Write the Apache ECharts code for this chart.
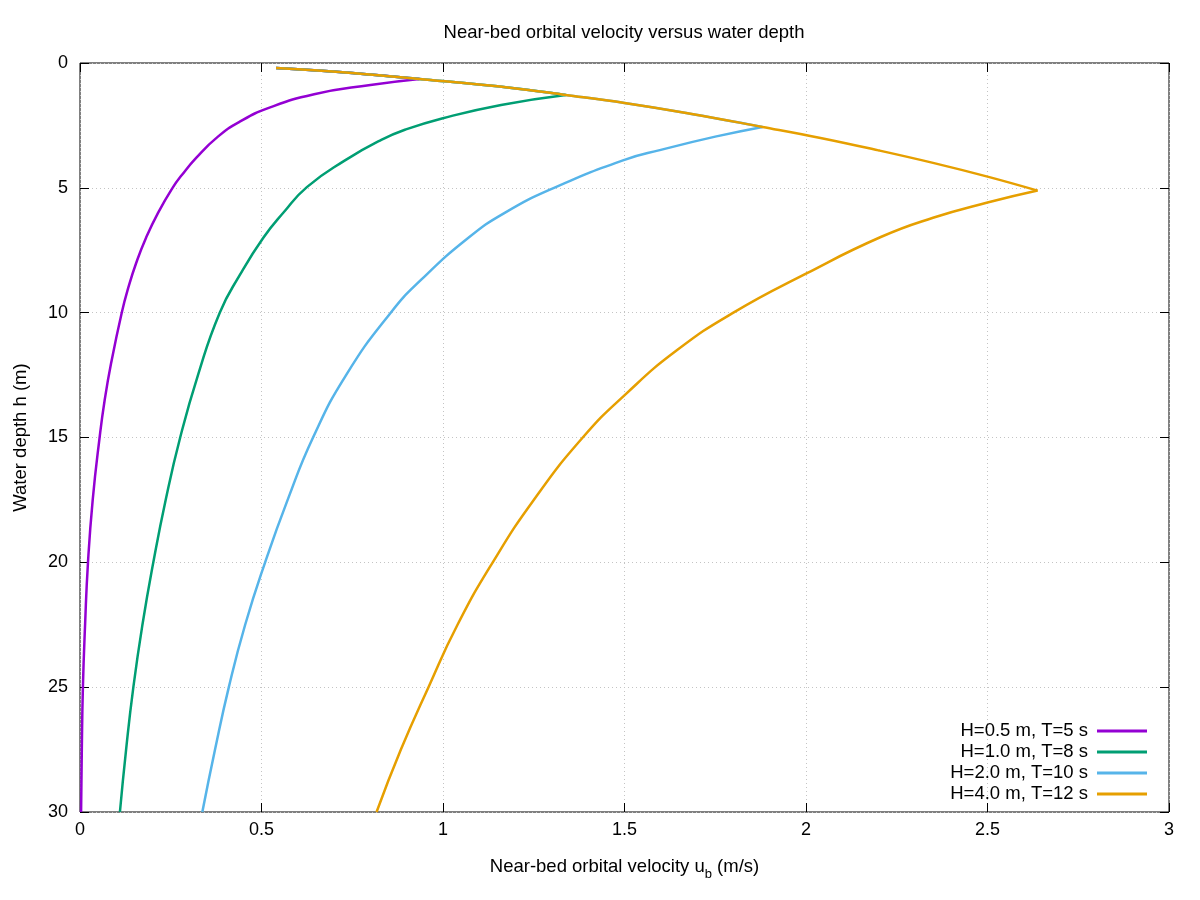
<!DOCTYPE html>
<html>
<head>
<meta charset="utf-8">
<title>Near-bed orbital velocity versus water depth</title>
<script src="https://cdn.jsdelivr.net/npm/echarts@6/dist/echarts.min.js"></script>
<style>
  html, body { margin: 0; padding: 0; background: #fff; }
  #chart { width: 1200px; height: 900px; }
</style>
</head>
<body>
<div id="chart"></div>
<script>
var FONT = '"Liberation Sans", Arial, sans-serif';

// axes
var velocityRange = [0, 3];
var velocityStep = 0.5;
var depthRange = [0, 30];
var depthStep = 5;

// waves
var waveNames = ['H=0.5 m, T=5 s', 'H=1.0 m, T=8 s', 'H=2.0 m, T=10 s', 'H=4.0 m, T=12 s'];
var waveColors = ['#9400d3', '#009e73', '#56b4e9', '#e69f00'];

// depth-limited (breaking) part, [u_b, h] - same for every wave
var breakingLine = [[0.54, 0.2], [0.75, 0.4], [0.935, 0.64], [1.19, 1.0], [1.338, 1.28], [1.5, 1.6],
  [1.67, 2.0], [1.88, 2.56], [2.04, 3.0], [2.2, 3.5], [2.35, 4.0], [2.5, 4.55], [2.638, 5.11]];

// depth where each wave leaves the breaking line
var peakDepth = [0.64, 1.28, 2.56, 5.11];

// deeper water part, [u_b, h]
var wave05 = [[0.935, 0.64], [0.80, 0.88], [0.645, 1.25], [0.52, 1.8], [0.44, 2.35], [0.38, 2.95],
  [0.32, 3.8], [0.28, 4.5], [0.255, 5.0], [0.215, 6.0], [0.182, 7.0], [0.155, 8.0], [0.133, 9.0],
  [0.115, 10], [0.086, 12], [0.068, 13.5], [0.054, 15], [0.035, 17.5], [0.022, 20], [0.014, 22.5],
  [0.008, 25], [0.005, 27.5], [0.003, 30]];
var wave10 = [[1.338, 1.28], [1.16, 1.68], [1.0, 2.21], [0.9, 2.65], [0.83, 3.08], [0.73, 3.9],
  [0.625, 4.97], [0.56, 6.0], [0.505, 7.0], [0.44, 8.5], [0.385, 10], [0.325, 12.5], [0.276, 15],
  [0.236, 17.5], [0.202, 20], [0.172, 22.5], [0.147, 25], [0.127, 27.5], [0.11, 30]];
var wave20 = [[1.88, 2.56], [1.75, 2.95], [1.6, 3.48], [1.5, 3.88], [1.306, 5.0], [1.17, 6.0],
  [1.07, 7.0], [0.94, 8.68], [0.856, 10], [0.733, 12.5], [0.642, 15], [0.572, 17.5], [0.51, 20],
  [0.455, 22.5], [0.41, 25], [0.372, 27.5], [0.337, 30]];
var wave40 = [[2.638, 5.11], [2.5, 5.59], [2.35, 6.2], [2.206, 6.97], [2.0, 8.44], [1.8, 10],
  [1.645, 11.5], [1.505, 13.24], [1.385, 15], [1.25, 17.5], [1.137, 20], [1.04, 22.5], [0.96, 25],
  [0.884, 27.5], [0.817, 30]];
var deepParts = [wave05, wave10, wave20, wave40];

var chart = echarts.init(document.getElementById('chart'), null, { renderer: 'canvas' });

var series = [];
for (var i = 0; i < waveNames.length; i++) {
  var upper = breakingLine.filter(function (p) { return p[1] <= peakDepth[i]; });
  var style = { color: waveColors[i], width: 2.5 };
  // two pieces per wave so the corner at the breaking depth stays sharp
  series.push({
    name: waveNames[i], type: 'line', data: upper, symbol: 'none', smooth: 0.4,
    lineStyle: style, itemStyle: { color: waveColors[i] }, z: 3 + i
  });
  series.push({
    name: waveNames[i], type: 'line', data: deepParts[i], symbol: 'none', smooth: 0.5,
    lineStyle: style, itemStyle: { color: waveColors[i] }, z: 3 + i
  });
}

var gridLine = { show: true, lineStyle: { color: '#c4c4c4', width: 1, type: [1, 3] } };
var noLine = { show: false, onZero: false };
function tickIn() {
  return { show: true, inside: true, length: 9, lineStyle: { color: '#000' } };
}
var labelStyle = { color: '#000', fontSize: 18, fontFamily: FONT };

var option = {
  animation: false,
  backgroundColor: '#fff',
  title: {
    text: 'Near-bed orbital velocity versus water depth',
    left: 619, top: 18, textAlign: 'center',
    textStyle: { color: '#000', fontSize: 18.5, fontWeight: 'normal', fontFamily: FONT }
  },
  legend: {
    orient: 'vertical', right: 53, bottom: 96, align: 'right',
    padding: 0, itemGap: 1, itemWidth: 50, itemHeight: 3, icon: 'rect',
    data: waveNames,
    textStyle: { color: '#000', fontSize: 18.5, fontFamily: FONT, lineHeight: 20, padding: [0, 4, 0, 0] }
  },
  grid: {
    left: 80, right: 31, top: 63, bottom: 88,
    show: true, borderColor: '#000', borderWidth: 1, backgroundColor: 'transparent'
  },
  xAxis: [{
    type: 'value', min: velocityRange[0], max: velocityRange[1], interval: velocityStep,
    position: 'bottom',
    name: 'Near-bed orbital velocity u{sub|b} (m/s)', nameLocation: 'middle', nameGap: 41,
    nameTextStyle: {
      color: '#000', fontSize: 18.5, fontFamily: FONT,
      rich: { sub: { fontSize: 13, fontFamily: FONT, color: '#000', padding: [15, 0, 0, 0] } }
    },
    axisLine: noLine, axisTick: tickIn(),
    axisLabel: Object.assign({ margin: 9 }, labelStyle),
    splitLine: gridLine
  }, {
    type: 'value', min: velocityRange[0], max: velocityRange[1], interval: velocityStep,
    position: 'top',
    axisLine: noLine, axisTick: tickIn(), axisLabel: { show: false }, splitLine: { show: false }
  }],
  yAxis: [{
    type: 'value', min: depthRange[0], max: depthRange[1], interval: depthStep, inverse: true,
    position: 'left',
    name: 'Water depth h (m)', nameLocation: 'middle', nameGap: 50, nameRotate: 90,
    nameTextStyle: { color: '#000', fontSize: 18.5, fontFamily: FONT },
    axisLine: noLine, axisTick: tickIn(),
    axisLabel: Object.assign({ margin: 12 }, labelStyle),
    splitLine: gridLine
  }, {
    type: 'value', min: depthRange[0], max: depthRange[1], interval: depthStep, inverse: true,
    position: 'right',
    axisLine: noLine, axisTick: tickIn(), axisLabel: { show: false }, splitLine: { show: false }
  }],
  series: series
};

chart.setOption(option);
</script>
</body>
</html>
